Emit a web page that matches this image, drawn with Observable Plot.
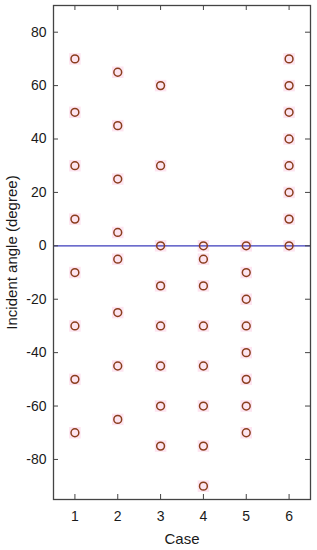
<!DOCTYPE html>
<html>
<head>
<meta charset="utf-8">
<script src="https://cdn.jsdelivr.net/npm/d3@7"></script>
<script src="https://cdn.jsdelivr.net/npm/@observablehq/plot@0.6"></script>
<style>
  html, body { margin: 0; padding: 0; background: #fff; }
  svg { display: block; }
</style>
</head>
<body>
<div id="chart"></div>
<script>
const cases = [1, 2, 3, 4, 5, 6];
const case1 = [70, 50, 30, 10, -10, -30, -50, -70];
const case2 = [65, 45, 25, 5, -5, -25, -45, -65];
const case3 = [60, 30, 0, -15, -30, -45, -60, -75];
const case4 = [0, -5, -15, -30, -45, -60, -75, -90];
const case5 = [0, -10, -20, -30, -40, -50, -60, -70];
const case6 = [70, 60, 50, 40, 30, 20, 10, 0];
const yTicks = [-80, -60, -40, -20, 0, 20, 40, 60, 80];

const series = [case1, case2, case3, case4, case5, case6];
const data = series.flatMap((vals, i) => vals.map(v => ({c: cases[i], a: v})));

const xDom = [0.5, 6.5], yDom = [-95, 90];
const tx = 5 * (xDom[1] - xDom[0]) / 257; // ~5px in x units
const ty = 5 * (yDom[1] - yDom[0]) / 494; // ~5px in y units
const tickStroke = "#444";

const font = "'Liberation Sans', Arial, sans-serif";
const plot = Plot.plot({
  width: 317,
  height: 550,
  marginLeft: 53,
  marginRight: 7,
  marginTop: 5,
  marginBottom: 51,
  style: {fontFamily: font, fontSize: "14px", color: "#1a1a1a", background: "#fff"},
  x: {domain: xDom, label: null},
  y: {domain: yDom, label: null},
  marks: [
    Plot.dot(data, {x: "c", y: "a", symbol: "square", r: 6.5, fill: "#fde4f0", stroke: "none"}),
    Plot.ruleY([0], {stroke: "#3b3bbb", strokeWidth: 1.2}),
    Plot.dot(data, {x: "c", y: "a", r: 3.9, stroke: "#8a3d1c", strokeWidth: 1.5, fill: "none"}),
    Plot.ruleX(cases, {x: d => d, y1: yDom[0], y2: yDom[0] + ty, stroke: tickStroke}),
    Plot.ruleX(cases, {x: d => d, y1: yDom[1], y2: yDom[1] - ty, stroke: tickStroke}),
    Plot.ruleY(yTicks, {y: d => d, x1: xDom[0], x2: xDom[0] + tx, stroke: tickStroke}),
    Plot.ruleY(yTicks, {y: d => d, x1: xDom[1], x2: xDom[1] - tx, stroke: tickStroke}),
    Plot.frame({stroke: "#444", strokeWidth: 1.3}),
    Plot.axisX({anchor: "bottom", ticks: cases, tickFormat: d => String(d), tickSize: 0, tickPadding: 12, fontSize: 14, label: "Case", labelAnchor: "center", labelOffset: 44, labelArrow: "none"}),
    Plot.axisY({anchor: "left", ticks: yTicks, tickFormat: d => String(d), tickSize: 0, tickPadding: 7, fontSize: 14, label: "Incident angle (degree)", labelAnchor: "center", labelOffset: 47, labelArrow: "none"}),
  ]
});
plot.querySelectorAll("g[aria-label='x-axis label'] text, g[aria-label='y-axis label'] text").forEach(t => t.setAttribute("font-size", "15"));
document.getElementById("chart").appendChild(plot);
</script>
</body>
</html>
